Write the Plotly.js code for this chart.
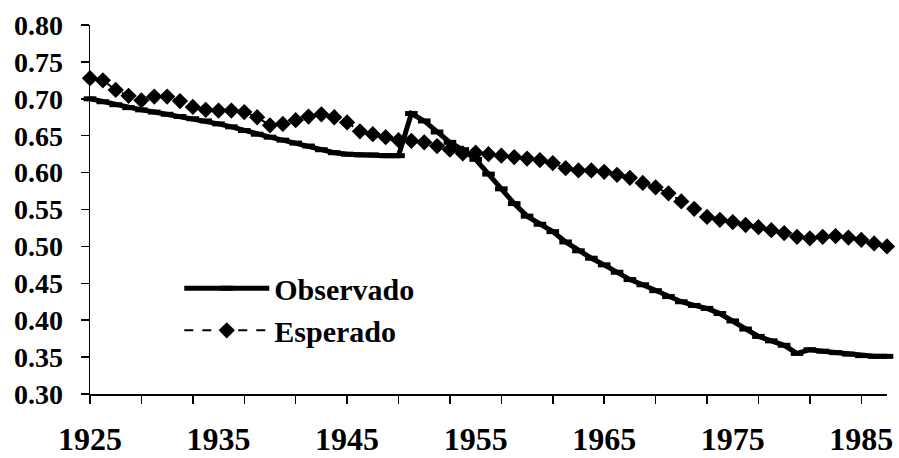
<!DOCTYPE html>
<html>
<head>
<meta charset="utf-8">
<script src="https://cdn.plot.ly/plotly-3.0.1.min.js"></script>
<style>html,body{margin:0;padding:0;background:#ffffff}</style>
</head>
<body>
<div id="chart" style="width:899px;height:458px"></div>
<script>
const years = [1925,1926,1927,1928,1929,1930,1931,1932,1933,1934,1935,1936,1937,1938,1939,1940,1941,1942,1943,1944,1945,1946,1947,1948,1949,1950,1951,1952,1953,1954,1955,1956,1957,1958,1959,1960,1961,1962,1963,1964,1965,1966,1967,1968,1969,1970,1971,1972,1973,1974,1975,1976,1977,1978,1979,1980,1981,1982,1983,1984,1985,1986,1987];

const observado = [0.700,0.696,0.692,0.688,0.685,0.682,0.679,0.676,0.673,0.670,0.666,0.662,0.657,0.652,0.648,0.644,0.640,0.636,0.631,0.627,0.625,0.624,0.624,0.623,0.623,0.680,0.670,0.655,0.641,0.631,0.618,0.598,0.578,0.558,0.541,0.530,0.520,0.506,0.494,0.484,0.475,0.465,0.455,0.448,0.440,0.432,0.425,0.420,0.416,0.409,0.399,0.388,0.378,0.372,0.366,0.355,0.360,0.358,0.356,0.354,0.352,0.351,0.351];

const esperado = [0.728,0.725,0.712,0.704,0.698,0.703,0.703,0.697,0.689,0.685,0.684,0.684,0.682,0.675,0.664,0.666,0.671,0.676,0.679,0.675,0.668,0.656,0.652,0.648,0.644,0.643,0.641,0.636,0.631,0.626,0.627,0.625,0.623,0.621,0.619,0.617,0.613,0.606,0.603,0.603,0.601,0.597,0.593,0.586,0.580,0.572,0.561,0.551,0.540,0.536,0.533,0.529,0.526,0.522,0.518,0.513,0.511,0.513,0.514,0.512,0.509,0.504,0.500];

const xLabelYears = [1925,1935,1945,1955,1965,1975,1985];
const xTickYears = [1925,1929,1933,1937,1941,1945,1949,1953,1957,1961,1965,1969,1973,1977,1981,1985];
const yTickVals = [0.30,0.35,0.40,0.45,0.50,0.55,0.60,0.65,0.70,0.75,0.80];

const serif = 'Liberation Serif, Times New Roman, serif';

const traces = [
  {
    x: years, y: observado, name: 'Observado', type: 'scatter', mode: 'lines+markers',
    line: {color: '#000000', width: 5},
    marker: {symbol: 'line-ew', size: 9, color: '#000000', line: {color: '#000000', width: 5}},
    cliponaxis: false, xaxis: 'x', yaxis: 'y'
  },
  {
    x: years, y: esperado, name: 'Esperado', type: 'scatter', mode: 'lines+markers',
    line: {color: '#000000', width: 2, dash: 'dash'},
    marker: {symbol: 'diamond', size: 12.5, color: '#000000'},
    cliponaxis: false, xaxis: 'x2', yaxis: 'y'
  }
];

const layout = {
  width: 899, height: 458,
  margin: {l: 90, r: 12, t: 25, b: 64},
  paper_bgcolor: '#ffffff', plot_bgcolor: '#ffffff',
  showlegend: true,
  legend: {
    x: 0.112, y: 0.357, xanchor: 'left', yanchor: 'top',
    bgcolor: 'rgba(0,0,0,0)',
    itemwidth: 85,
    font: {family: serif, size: 30, weight: 'bold', color: '#000000'},
    tracegroupgap: 0
  },
  xaxis: {
    range: [1925, 1987],
    tickmode: 'array', tickvals: xLabelYears, ticktext: xLabelYears.map(String),
    ticks: '', showgrid: false, zeroline: false,
    showline: true, linecolor: '#000000', linewidth: 1.5,
    tickfont: {family: serif, size: 32, weight: 'bold', color: '#000000'},
    ticklabelstandoff: 16
  },
  xaxis2: {
    overlaying: 'x', matches: 'x', anchor: 'y', side: 'bottom',
    range: [1925, 1987],
    tickmode: 'array', tickvals: xTickYears,
    ticks: 'outside', ticklen: 9, tickwidth: 1.5, tickcolor: '#000000',
    showticklabels: false, showgrid: false, zeroline: false, showline: false
  },
  yaxis: {
    range: [0.30, 0.80],
    tickmode: 'array', tickvals: yTickVals, tickformat: '.2f',
    ticks: 'outside', ticklen: 8, tickwidth: 1.5, tickcolor: '#000000',
    showgrid: false, zeroline: false,
    showline: true, linecolor: '#000000', linewidth: 1.5,
    tickfont: {family: serif, size: 28, weight: 'bold', color: '#000000'},
    ticklabelstandoff: 12
  }
};

Plotly.newPlot('chart', traces, layout, {displayModeBar: false, staticPlot: true});
</script>
</body>
</html>
